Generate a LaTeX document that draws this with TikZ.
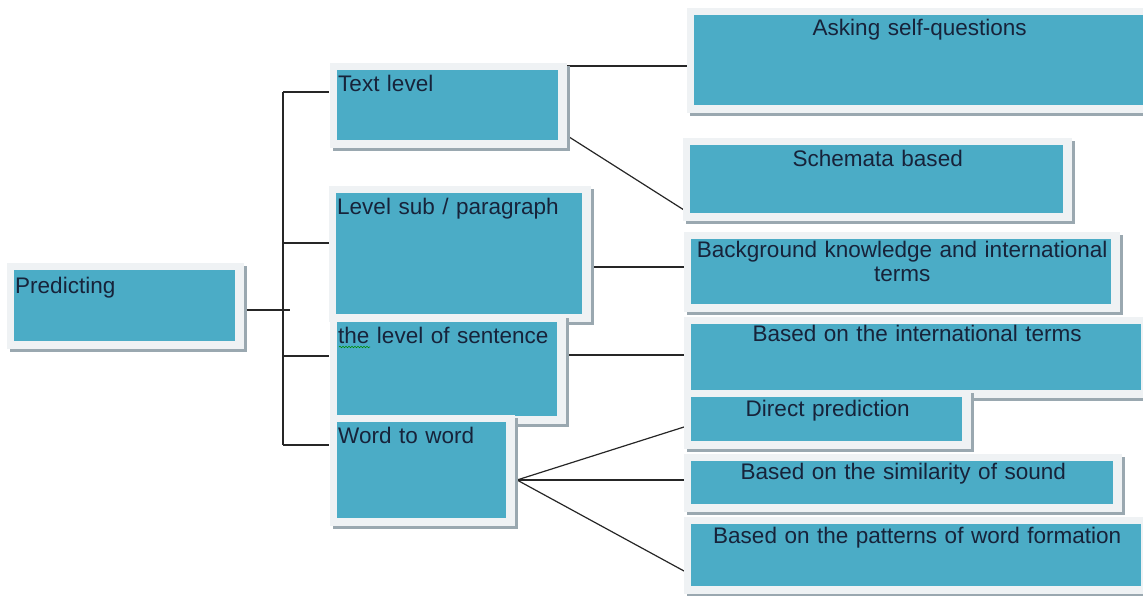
\documentclass[tikz,border=0pt]{standalone}
\usepackage{fontspec}
\setmainfont{Liberation Sans}
\usetikzlibrary{shadows,decorations.pathmorphing}
\definecolor{boxteal}{HTML}{4BACC6}
\definecolor{framecol}{HTML}{EFF2F4}
\definecolor{shadowcol}{HTML}{9AA8B0}
\definecolor{txtcol}{HTML}{17233A}
\definecolor{linecol}{HTML}{262626}
\tikzset{
  pbox/.style={fill=framecol, inner xsep=8bp, inner ysep=0pt, anchor=north west,
    font=\fontsize{22.6}{24.5}\selectfont, text=txtcol,
    general shadow={fill=shadowcol, shadow xshift=3bp, shadow yshift=-3bp},
    path picture={\fill[boxteal] ([xshift=7bp,yshift=-7bp]path picture bounding box.north west)
      rectangle ([xshift=-9bp,yshift=8bp]path picture bounding box.south east);}},
  conn/.style={draw=linecol, line width=1.2bp},
}
\newcommand\mkbox[8]{%
  \pgfmathsetmacro\bw{#4-#2-16}%
  \pgfmathsetmacro\bd{#5-#3-#7}%
  \node[pbox, align=#6, text width=\bw bp, text height=#7bp, text depth=\bd bp] (#1) at (#2,#3) {#8};%
}
\begin{document}
\begin{tikzpicture}[x=1bp,y=-1bp]
\useasboundingbox (0,0) rectangle (1143,596);
% junction coordinates
\coordinate (p0) at (244,310);
\coordinate (p1) at (290,310);
\coordinate (t1) at (283,92);
\coordinate (t2) at (283,243);
\coordinate (t3) at (283,356);
\coordinate (t4) at (283,445);
\coordinate (b1) at (329,92);
\coordinate (b2) at (329,243);
\coordinate (b3) at (329,356);
\coordinate (b4) at (329,445);
\coordinate (tx1) at (567,66);
\coordinate (as1) at (687,66);
\coordinate (tx2) at (566,135);
\coordinate (sc1) at (684,210);
\coordinate (lv1) at (592,267);
\coordinate (bg1) at (686,267);
\coordinate (se1) at (567,355);
\coordinate (in1) at (686,355);
\coordinate (wd1) at (517,480);
\coordinate (di1) at (684,427);
\coordinate (si1) at (684,480);
\coordinate (pa1) at (684,571);
% connectors
\draw[conn] (p0) -- (p1);
\draw[conn] (t1) -- (t4);
\draw[conn] (t1) -- (b1);
\draw[conn] (t2) -- (b2);
\draw[conn] (t3) -- (b3);
\draw[conn] (t4) -- (b4);
\draw[conn] (tx1) -- (as1);
\draw[conn] (tx2) -- (sc1);
\draw[conn] (lv1) -- (bg1);
\draw[conn] (se1) -- (in1);
\draw[conn] (wd1) -- (di1);
\draw[conn] (wd1) -- (si1);
\draw[conn] (wd1) -- (pa1);
% right column
\mkbox{ask}{687}{8}{1152}{113}{center}{27}{Asking self-questions}
\mkbox{schema}{683}{138}{1072}{221}{center}{28}{Schemata based}
\mkbox{bg}{684}{232}{1120}{312}{center}{25}{Background knowledge and international\\terms}
\mkbox{intl}{684}{317}{1150}{398}{center}{24}{Based on the international terms}
\mkbox{direct}{684}{390}{971}{449}{center}{26}{Direct prediction}
\mkbox{sim}{684}{454}{1122}{512}{center}{25}{Based on the similarity of sound}
\mkbox{pat}{684}{517}{1150}{594}{center}{26}{Based on the patterns of word formation}
% middle column
\mkbox{textl}{330}{63}{567}{148}{left}{28}{Text level}
\mkbox{levsub}{329}{186}{591}{322}{left}{28}{Level sub / paragraph}
\mkbox{sent}{330}{315}{566}{424}{left}{28}{the level of sentence}
\mkbox{word}{330}{415}{515}{526}{left}{28}{Word to word}
% root
\mkbox{pred}{7}{263}{244}{349}{left}{30}{Predicting}
% spell-check squiggle under "the"
\draw[green!55!black, line width=0.6bp, decorate, decoration={snake, amplitude=0.7bp, segment length=3bp}] (339,347) -- (370,347);
\end{tikzpicture}
\end{document}
